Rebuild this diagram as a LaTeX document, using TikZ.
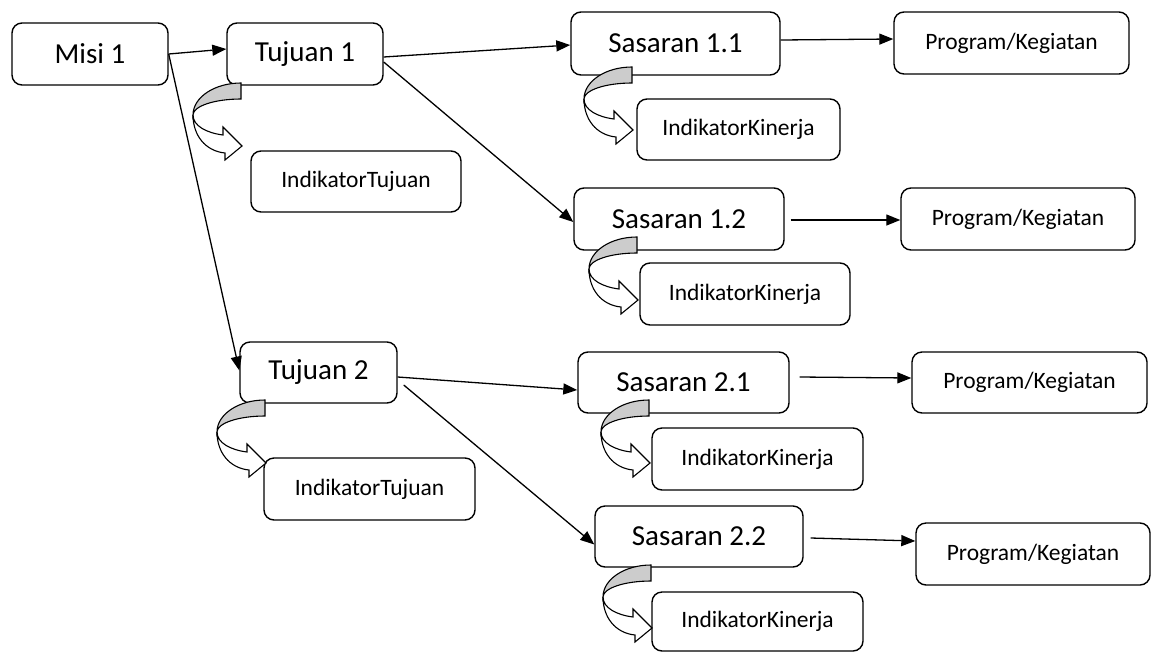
\documentclass[tikz,border=0pt]{standalone}
\usepackage{fontspec}
\setmainfont{Carlito}
\usetikzlibrary{arrows.meta}
\tikzset{
  flowarrow/.style={-{Triangle[length=14pt,width=11pt]}, line width=1.3pt},
  bigbox/.style={draw, rounded corners=10pt, line width=1.4pt, minimum height=62pt, font=\fontsize{29}{34}\selectfont},
  smallbox/.style={draw, rounded corners=10pt, line width=1.4pt, minimum height=62pt, font=\fontsize{23.5}{28}\selectfont},
  pics/indarrow/.style={code={
    \draw[line width=1.1pt, fill=white] (-48,32) .. controls (-48,43) and (-34,50) .. (-18,52) -- (-18,44) -- (1,63) -- (-16,77) -- (-16,70) .. controls (-36,68) and (-48,52) .. (-48,32) -- cycle;
    \draw[line width=1.1pt, fill=black!20] (0,0) .. controls (-26.5,0) and (-48,14.3) .. (-48,32) .. controls (-48,23.2) and (-26.5,16) .. (0,16) -- cycle;
  }}
}
\begin{document}
\begin{tikzpicture}[x=1pt, y=-1pt]
  \useasboundingbox (0,0) rectangle (1158,651);
  % left column
  \node[bigbox, minimum width=156pt] (misi) at (90,54) {Misi 1};
  \node[bigbox, minimum width=156pt] (tujuan1) at (305,54) {Tujuan 1};
  \node[smallbox, minimum width=210pt, minimum height=61pt] (indtujuan1) at (356,181.5) {IndikatorTujuan};
  \node[bigbox, minimum width=157pt, minimum height=61pt] (tujuan2) at (318.5,372.5) {Tujuan 2};
  \node[smallbox, minimum width=211pt] (indtujuan2) at (369.5,489) {IndikatorTujuan};
  % sasaran
  \node[bigbox, minimum width=209pt, minimum height=63pt] (sasaran11) at (675.5,43.5) {Sasaran 1.1};
  \node[bigbox, minimum width=210pt] (sasaran12) at (679,219) {Sasaran 1.2};
  \node[bigbox, minimum width=211pt, minimum height=61pt] (sasaran21) at (683.5,382.5) {Sasaran 2.1};
  \node[bigbox, minimum width=208pt, minimum height=61pt] (sasaran22) at (699,536.5) {Sasaran 2.2};
  % indikator kinerja
  \node[smallbox, minimum width=203pt, minimum height=61pt] (kinerja11) at (738.5,129.5) {IndikatorKinerja};
  \node[smallbox, minimum width=210pt] (kinerja12) at (745,294) {IndikatorKinerja};
  \node[smallbox, minimum width=211pt] (kinerja21) at (757.5,459) {IndikatorKinerja};
  \node[smallbox, minimum width=211pt, minimum height=59pt] (kinerja22) at (757.5,621.5) {IndikatorKinerja};
  % program
  \node[smallbox, minimum width=235pt] (program11) at (1011.5,43) {Program/Kegiatan};
  \node[smallbox, minimum width=234pt] (program12) at (1018,219) {Program/Kegiatan};
  \node[smallbox, minimum width=235pt, minimum height=61pt] (program21) at (1029.5,382.5) {Program/Kegiatan};
  \node[smallbox, minimum width=234pt] (program22) at (1033,554) {Program/Kegiatan};

  \draw[flowarrow] (misi.east) -- ([yshift=5pt]tujuan1.west);
  \draw[flowarrow] (misi.east) -- ([yshift=2pt]tujuan2.west);
  \draw[flowarrow] ([yshift=-3pt]tujuan1.east) -- ([yshift=-1.5pt]sasaran11.west);
  \draw[flowarrow] ([yshift=-8pt]tujuan1.east) -- ([yshift=-3pt]sasaran12.west);
  \draw[flowarrow] ([yshift=-4.5pt]tujuan2.east) -- ([yshift=-7.5pt]sasaran21.west);
  \draw[flowarrow] ([xshift=6pt,yshift=-12.5pt]tujuan2.east) -- ([yshift=-8pt]sasaran22.west);
  \draw[flowarrow] ([yshift=3.5pt]sasaran11.east) -- ([yshift=4pt]program11.west);
  \draw[flowarrow] ([xshift=6pt,yshift=-1pt]sasaran12.east) -- ([yshift=-1pt]program12.west);
  \draw[flowarrow] ([xshift=10pt,yshift=5.5pt]sasaran21.east) -- ([yshift=4.5pt]program21.west);
  \draw[flowarrow] ([xshift=7pt,yshift=-1.5pt]sasaran22.east) -- ([yshift=13pt]program22.west);

  % curved indicator arrows
  \pic at (241,83) {indarrow};
  \pic at (632,67) {indarrow};
  \pic at (637,237) {indarrow};
  \pic at (265,400) {indarrow};
  \pic at (649,400) {indarrow};
  \pic at (651,565) {indarrow};
\end{tikzpicture}
\end{document}
